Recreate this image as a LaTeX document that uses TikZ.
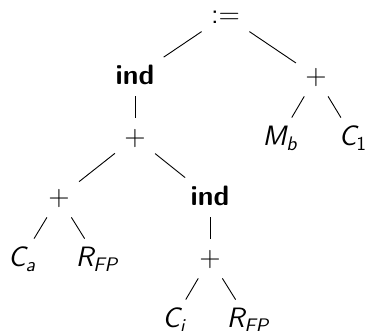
\documentclass[tikz,border=0pt]{standalone}
\usepackage{tikz}
\usetikzlibrary{positioning}

\tikzset{
  tnode/.style={anchor=base, inner sep=4.5pt, text height=9.5pt, text depth=1pt},
  kw/.style={tnode, execute at begin node=\bfseries},
  edge/.style={draw, line width=0.45pt}
}

\begin{document}
\begin{tikzpicture}[x=0.5pt, y=-0.5pt, font=\sffamily\fontsize{14}{17}\selectfont]
  \useasboundingbox (0,0) rectangle (366,331);

  \node[tnode] (assign) at (225.5,24) {:=};
  \node[kw] (ind1) at (135,85) {ind};
  \node[tnode] (plusR) at (316,85) {+};
  \node[tnode] (plusM) at (135,146) {+};
  \node[tnode] (mb) at (280,146) {\itshape M\textsubscript{b}};
  \node[tnode] (c1) at (353,146) {{\itshape C}\textsubscript{1}};
  \node[tnode] (plusL) at (59,206) {+};
  \node[kw] (ind2) at (210,206) {ind};
  \node[tnode] (ca) at (22,267) {\itshape C\textsubscript{a}};
  \node[tnode] (rfp1) at (97,267) {\itshape R\textsubscript{FP}};
  \node[tnode] (plusB) at (210,267) {+};
  \node[tnode] (ci) at (174,328) {\itshape C\textsubscript{i}};
  \node[tnode] (rfp2) at (248,328) {\itshape R\textsubscript{FP}};

  \path[edge] (assign) -- (ind1);
  \path[edge] (assign) -- (plusR);
  \path[edge] (plusR) -- (mb);
  \path[edge] (plusR) -- (c1);
  \path[edge] (ind1) -- (plusM);
  \path[edge] (plusM) -- (plusL);
  \path[edge] (plusM) -- (ind2);
  \path[edge] (plusL) -- (ca);
  \path[edge] (plusL) -- (rfp1);
  \path[edge] (ind2) -- (plusB);
  \path[edge] (plusB) -- (ci);
  \path[edge] (plusB) -- (rfp2);
\end{tikzpicture}
\end{document}
